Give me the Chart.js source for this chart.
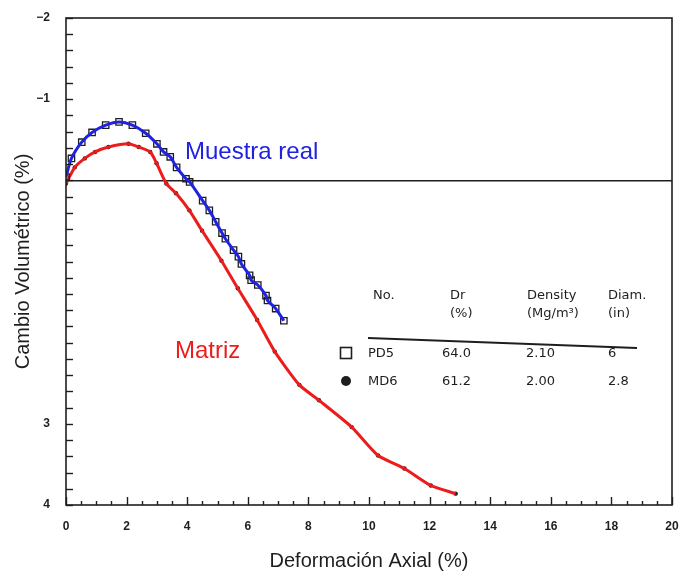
<!DOCTYPE html>
<html>
<head>
<meta charset="utf-8">
<script src="https://cdn.jsdelivr.net/npm/chart.js@4.4.1/dist/chart.umd.min.js"></script>
<style>
  html, body { margin: 0; padding: 0; background: #ffffff; }
  #wrap { width: 684px; height: 576px; position: relative; }
</style>
</head>
<body>
<div id="wrap"><canvas id="c" width="684" height="576"></canvas></div>
<script>
// PD5 specimen (real sample): axial strain (%) and volumetric change (%)
const pd5Strain = [0.00, 0.18, 0.52, 0.86, 1.31, 1.75, 2.19, 2.63, 3.00, 3.22, 3.44, 3.65, 3.96, 4.08, 4.51, 4.73, 4.94, 5.15, 5.26, 5.53, 5.69, 5.79, 6.06, 6.11, 6.33, 6.60, 6.65, 6.92, 7.19];
const pd5Volume = [-0.04, -0.27, -0.47, -0.59, -0.68, -0.72, -0.68, -0.58, -0.45, -0.35, -0.29, -0.16, -0.02, 0.02, 0.25, 0.37, 0.51, 0.65, 0.72, 0.86, 0.94, 1.03, 1.17, 1.23, 1.29, 1.42, 1.48, 1.58, 1.73];

// MD6 specimen (matrix)
const md6Strain = [0.00, 0.29, 0.62, 0.96, 1.40, 2.06, 2.40, 2.78, 2.99, 3.31, 3.63, 4.07, 4.49, 5.13, 5.67, 6.31, 6.89, 7.70, 8.35, 9.43, 10.30, 11.17, 12.04, 12.86];
const md6Volume = [0.04, -0.16, -0.27, -0.35, -0.41, -0.45, -0.41, -0.35, -0.21, 0.04, 0.16, 0.37, 0.62, 0.99, 1.33, 1.72, 2.11, 2.52, 2.71, 3.04, 3.39, 3.55, 3.76, 3.86];

// Axis ticks
const xTickValues = [0, 2, 4, 6, 8, 10, 12, 14, 16, 18, 20];
const yLabelledTicks = [-2, -1, 3, 4];

// Specimen table
const tableHeader = [["No.", ""], ["Dr", "(%)"], ["Density", "(Mg/m³)"], ["Diam.", "(in)"]];
const tableRows = [
  ["PD5", "64.0", "2.10", "6"],
  ["MD6", "61.2", "2.00", "2.8"]
];

const toPts = (xs, ys) => xs.map((x, i) => ({ x: x, y: ys[i] }));

const INK = '#1e1e1e';
const BLUE = '#1f22e0';
const RED = '#ec1c1c';

// Frame, inward tick marks, curve labels and the specimen table
const decor = {
  id: 'decor',
  afterDraw(chart) {
    const { ctx, chartArea: a, scales } = chart;
    const xs = scales.x, ys = scales.y;
    ctx.save();
    ctx.strokeStyle = INK;
    ctx.lineWidth = 1.6;
    ctx.strokeRect(a.left, a.top, a.right - a.left, a.bottom - a.top);

    // inward ticks on the left axis, every 0.2 %
    ctx.lineWidth = 1.4;
    for (let k = 0; k <= 30; k++) {
      const v = -2 + k * 0.2;
      const py = Math.round(ys.getPixelForValue(v)) + 0.5;
      ctx.beginPath();
      ctx.moveTo(a.left, py);
      ctx.lineTo(a.left + 7, py);
      ctx.stroke();
    }
    // inward ticks on the bottom axis, every 0.5 %
    for (let k = 0; k <= 40; k++) {
      const v = k * 0.5;
      const px = Math.round(xs.getPixelForValue(v)) + 0.5;
      const len = (k % 4 === 0) ? 8 : 4;
      ctx.beginPath();
      ctx.moveTo(px, a.bottom);
      ctx.lineTo(px, a.bottom - len);
      ctx.stroke();
    }

    // curve labels
    ctx.font = '24px "Liberation Sans", Arial, sans-serif';
    ctx.textBaseline = 'middle';
    ctx.textAlign = 'left';
    ctx.fillStyle = BLUE;
    ctx.fillText('Muestra real', 185, 152);
    ctx.fillStyle = RED;
    ctx.fillText('Matriz', 175, 351);

    // specimen table
    const colX = [373, 450, 527, 608];
    ctx.fillStyle = INK;
    ctx.font = '13px "DejaVu Sans", sans-serif';
    tableHeader.forEach((h, i) => {
      ctx.fillText(h[0], colX[i], 296);
      if (h[1]) ctx.fillText(h[1], colX[i], 314);
    });
    ctx.lineWidth = 1.8;
    ctx.beginPath();
    ctx.moveTo(368, 338);
    ctx.lineTo(637, 348);
    ctx.stroke();
    const rowX = [368, 442, 526, 608];
    const rowY = [354, 382];
    tableRows.forEach((r, j) => {
      r.forEach((t, i) => ctx.fillText(t, rowX[i], rowY[j]));
    });
    // table symbols
    ctx.lineWidth = 1.6;
    ctx.strokeRect(340.5, 347.5, 11, 11);
    ctx.beginPath();
    ctx.arc(346, 381, 5, 0, Math.PI * 2);
    ctx.fill();
    ctx.restore();
  }
};

new Chart(document.getElementById('c'), {
  type: 'scatter',
  data: {
    datasets: [
      {
        label: 'Muestra real',
        data: toPts(pd5Strain, pd5Volume),
        showLine: true,
        borderColor: BLUE,
        borderWidth: 3,
        tension: 0.3,
        pointRadius: 0,
        order: 1
      },
      {
        label: 'PD5',
        data: toPts(pd5Strain, pd5Volume),
        showLine: false,
        pointStyle: 'rect',
        pointRadius: 4.5,
        pointBorderWidth: 1.3,
        pointBorderColor: INK,
        pointBackgroundColor: 'rgba(255,255,255,0)',
        order: 2
      },
      {
        label: 'Matriz',
        data: toPts(md6Strain, md6Volume),
        showLine: true,
        borderColor: RED,
        borderWidth: 3,
        tension: 0.2,
        pointRadius: 0,
        order: 3
      },
      {
        label: 'MD6',
        data: toPts(md6Strain, md6Volume),
        showLine: false,
        pointRadius: 2.2,
        pointBorderWidth: 0,
        pointBackgroundColor: INK,
        order: 4
      }
    ]
  },
  options: {
    responsive: false,
    animation: false,
    devicePixelRatio: 1,
    layout: { padding: { top: 18, right: 12, left: 0, bottom: 0 } },
    plugins: {
      legend: { display: false },
      tooltip: { enabled: false }
    },
    scales: {
      x: {
        type: 'linear',
        min: 0,
        max: 20,
        afterFit(s) { s.height = 71; s.paddingLeft = 0; s.paddingRight = 0; },
        afterBuildTicks(s) { s.ticks = xTickValues.map(v => ({ value: v })); },
        grid: { display: false, drawTicks: false },
        border: { display: false },
        ticks: {
          padding: 14,
          color: INK,
          font: { family: '"Liberation Sans", Arial, sans-serif', size: 12, weight: 'bold' },
          maxRotation: 0
        },
        title: {
          display: true,
          text: 'Deformación Axial (%)',
          color: INK,
          font: { family: '"Liberation Sans", Arial, sans-serif', size: 20 },
          padding: { top: 0, bottom: 3 }
        }
      },
      y: {
        type: 'linear',
        reverse: true,
        min: -2,
        max: 4,
        afterFit(s) { s.width = 66; s.paddingTop = 0; s.paddingBottom = 0; },
        afterBuildTicks(s) { s.ticks = [-2, -1, 0, 1, 2, 3, 4].map(v => ({ value: v })); },
        grid: {
          drawTicks: false,
          lineWidth: 1.6,
          color: c => (c.tick && c.tick.value === 0) ? INK : 'rgba(0,0,0,0)'
        },
        border: { display: false },
        ticks: {
          padding: 16,
          color: INK,
          font: { family: '"Liberation Sans", Arial, sans-serif', size: 12, weight: 'bold' },
          callback: v => yLabelledTicks.includes(v) ? (v < 0 ? '\u2212' + Math.abs(v) : String(v)) : ''
        },
        title: {
          display: true,
          text: 'Cambio Volumétrico (%)',
          color: INK,
          font: { family: '"Liberation Sans", Arial, sans-serif', size: 20 },
          padding: { top: 11, bottom: 0 }
        }
      }
    }
  },
  plugins: [decor]
});
</script>
</body>
</html>
